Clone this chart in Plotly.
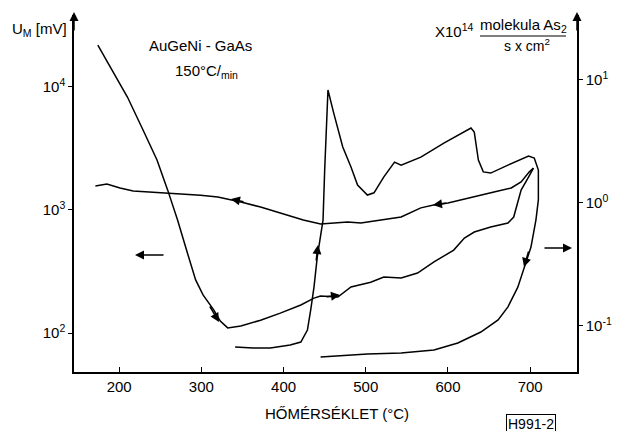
import plotly.graph_objects as go

# Curve A (U_M, left axis) - heating branch
a_heat_t = [174, 210, 229, 246, 259, 271, 283, 293, 302, 315, 323, 332, 348, 372, 396, 421, 437, 445,
            466, 482, 506, 522, 543, 563, 583, 607, 620, 632, 652, 673, 680, 685, 689, 698, 704]
a_heat_v = [21900, 8280, 4470, 2550, 1450, 828, 447, 270, 204, 154, 125, 110, 114, 127, 145, 169, 192, 200,
            196, 237, 259, 285, 280, 307, 378, 472, 592, 662, 726, 783, 877, 1160, 1450, 1850, 2190]
# Curve A - cooling branch
a_cool_t = [704, 699, 689, 677, 656, 640, 620, 600, 588, 567, 543, 518, 494, 478, 457, 445, 424, 396,
            372, 348, 320, 299, 259, 217, 201, 185, 171]
a_cool_v = [2190, 2040, 1690, 1510, 1400, 1320, 1210, 1140, 1120, 1040, 877, 828, 783, 798, 783, 769, 828, 944,
            1057, 1160, 1275, 1320, 1374, 1426, 1510, 1626, 1567]

# Curve B (As2 flux, right axis, x10^14 molecules / s cm^2)
b_t = [341, 363, 384, 408, 421, 429, 433, 437, 441, 445, 448, 450, 454, 461, 472, 482, 490, 502, 510,
       522, 535, 543, 567, 595, 628, 632, 637, 643, 652, 673, 698, 705, 710, 710, 707, 701, 695, 685,
       673, 661, 640, 612, 583, 543, 502, 445]
b_v = [0.0675, 0.0662, 0.0662, 0.0700, 0.0741, 0.0927, 0.135, 0.207, 0.364, 0.528, 0.726, 1.85, 8.28, 5.38,
       2.85, 1.96, 1.40, 1.16, 1.21, 1.63, 2.15, 2.03, 2.36, 3.07, 4.07, 3.77, 2.23, 1.79, 1.75, 2.03, 2.41,
       2.32, 1.85, 1.06, 0.726, 0.438, 0.325, 0.207, 0.143, 0.112, 0.0893, 0.0727, 0.0637, 0.0603, 0.0592,
       0.0560]

x_ticks = [200, 300, 400, 500, 600, 700]
y_left_ticks = [100, 1000, 10000]
y_left_text = ["10<sup>2</sup>", "10<sup>3</sup>", "10<sup>4</sup>"]
y_right_ticks = [0.1, 1, 10]
y_right_text = ["10<sup>-1</sup>", "10<sup>0</sup>", "10<sup>1</sup>"]

FONT = "Liberation Sans"
OFF = 8  # page body margin
L, R, T, B = 74, 577, 15, 372  # plot area in window pixels
W, H = 623 - OFF, 431 - OFF


def P(px, py):
    return (px - L) / (R - L), (B - py) / (B - T)


line = dict(color="black", width=1.5)
fig = go.Figure()
fig.add_trace(go.Scatter(x=a_heat_t, y=a_heat_v, mode="lines", line=line, yaxis="y"))
fig.add_trace(go.Scatter(x=a_cool_t, y=a_cool_v, mode="lines", line=line, yaxis="y"))
fig.add_trace(go.Scatter(x=b_t, y=b_v, mode="lines", line=line, yaxis="y2"))

ann = []


def text(px, py, s, xanchor="center", size=14, **kw):
    x, y = P(px, py)
    ann.append(dict(x=x, y=y, xref="paper", yref="paper", text=s, showarrow=False,
                    xanchor=xanchor, yanchor="middle", font=dict(family=FONT, size=size, color="black"), **kw))


def arrow(hx, hy, ax, ay, head=2, size=1.2):
    x, y = P(hx, hy)
    ann.append(dict(x=x, y=y, xref="paper", yref="paper", text="", showarrow=True, ax=ax, ay=ay,
                    arrowhead=head, arrowsize=size, arrowwidth=1.5, arrowcolor="black", standoff=0))


text(10, 30, "U<sub>M</sub> [mV]", xanchor="left", size=15)
text(200, 45, "AuGeNi - GaAs", size=15)
text(206, 72, "150°C/<sub>min</sub>", size=15)
text(476, 31, "X10<sup>14</sup>", xanchor="right", size=15)
text(523, 25, "molekula As<sub>2</sub>", size=15)
text(527, 45, "s x cm<sup>2</sup>", size=14)
text(337, 413, "HŐMÉRSÉKLET (°C)", size=15)
text(531, 424, "H991-2", size=14, bordercolor="black", borderwidth=1, borderpad=1)

# axis arrows
arrow(74, 12, 0, 20)
arrow(577, 12, 0, 20)
# free pointer arrows
arrow(135, 255, 30, 0)
arrow(572, 248, -29, 0)
# direction arrows on curves
arrow(219, 322, -10, -17)
arrow(340, 295, -15, 2)
arrow(433, 205, 15, -2)
arrow(231, 199, 14, 3)
arrow(318, 245, -2, 17)
arrow(524, 267, 5, -17)

fx0, fy = P(480, 36)
fx1, _ = P(566, 36)
shapes = [dict(type="line", xref="paper", yref="paper", x0=fx0, x1=fx1, y0=fy, y1=fy,
               line=dict(color="black", width=1))]

axis_font = dict(family=FONT, size=15, color="black")
fig.update_layout(
    width=W, height=H,
    margin=dict(l=L - OFF, r=W - (R - OFF), t=T - OFF, b=H - (B - OFF), autoexpand=False),
    paper_bgcolor="white", plot_bgcolor="white",
    showlegend=False,
    annotations=ann, shapes=shapes,
    xaxis=dict(range=[145, 757], tickvals=x_ticks, ticks="inside", ticklen=5, tickcolor="black",
               showline=True, linecolor="black", linewidth=1.5, showgrid=False, zeroline=False,
               tickfont=axis_font, automargin=False),
    yaxis=dict(type="log", range=[1.683, 4.585], tickvals=y_left_ticks, ticktext=y_left_text,
               ticks="outside", ticklen=4, tickcolor="black", showline=True, linecolor="black",
               linewidth=1.5, showgrid=False, zeroline=False, tickfont=axis_font, automargin=False),
    yaxis2=dict(type="log", range=[-1.374, 1.528], tickvals=y_right_ticks, ticktext=y_right_text,
                overlaying="y", side="right", ticks="outside", ticklen=4, tickcolor="black",
                showline=True, linecolor="black", linewidth=1.5, showgrid=False, zeroline=False,
                tickfont=axis_font, automargin=False),
)

fig.write_html("out.html")
